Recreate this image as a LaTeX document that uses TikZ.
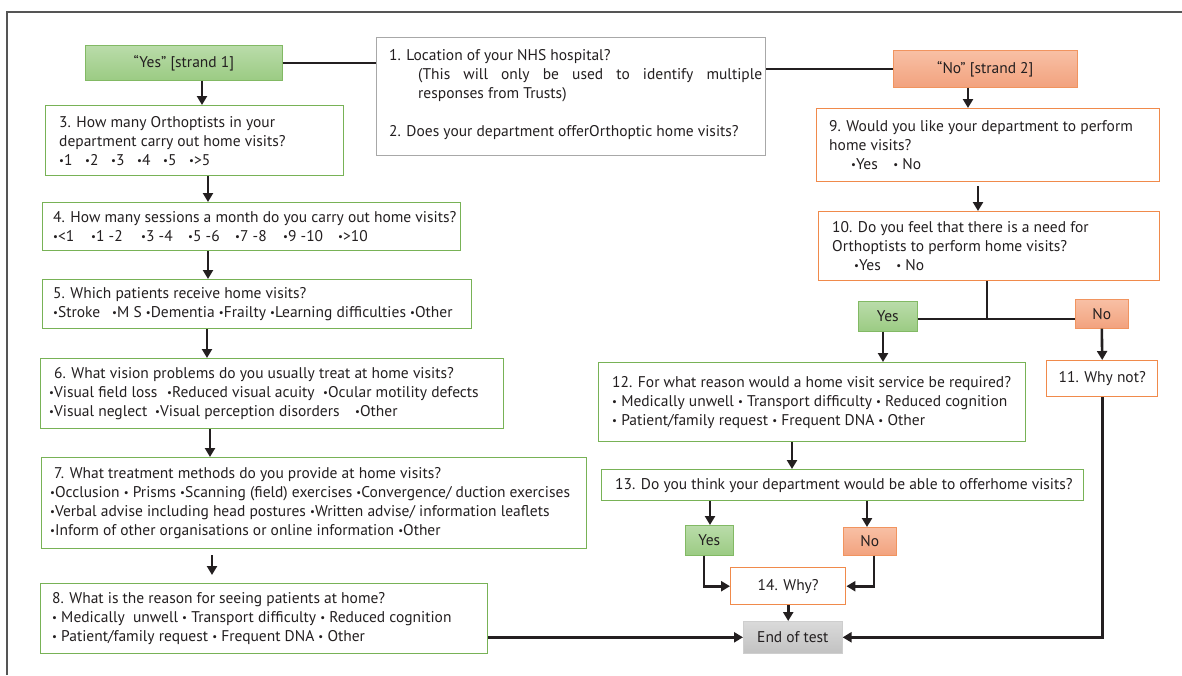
\documentclass[tikz,border=0pt]{standalone}
\usepackage{fontspec}
\setmainfont{PT Sans}
\usetikzlibrary{arrows.meta,calc}
\definecolor{gbord}{HTML}{78B256}
\definecolor{obord}{HTML}{F08A4B}
\definecolor{qbord}{HTML}{A8A8A8}
\definecolor{gtop}{HTML}{BADCAA}
\definecolor{gbot}{HTML}{9BCB83}
\definecolor{otop}{HTML}{F8C0A5}
\definecolor{obot}{HTML}{F2A27E}
\definecolor{ytop}{HTML}{DADADA}
\definecolor{ybot}{HTML}{C2C2C2}
\definecolor{lcol}{HTML}{231F20}
\definecolor{tcol}{HTML}{231F20}
\definecolor{frame}{HTML}{555555}
\newcommand\bu{\raisebox{0.12ex}{\scalebox{0.7}{•}}}
\newcommand\bx[2]{\makebox[#1pt][l]{#2}}
\begin{document}
\begin{tikzpicture}[x=1pt,y=-1pt,
  every node/.style={inner sep=0pt, text=tcol, font=\fontsize{15.5}{19}\selectfont},
  box/.style={draw, line width=1.4pt, fill=white, anchor=north west},
  gbox/.style={box, draw=gbord},
  obox/.style={box, draw=obord},
  qbox/.style={box, draw=qbord},
  gfill/.style={anchor=north west, draw=gbord!70!gbot, line width=0.6pt, top color=gtop, bottom color=gbot},
  ofill/.style={anchor=north west, draw=obord!60!obot, line width=0.6pt, top color=otop, bottom color=obot},
  yfill/.style={anchor=north west, draw=ybot!80!white, line width=0.6pt, top color=ytop, bottom color=ybot},
  txt/.style={align=left, anchor=west},
  link/.style={draw=lcol, line width=2.6pt},
  arr/.style={link, -{Triangle[length=9pt,width=10pt]}},
]
\useasboundingbox (0,0) rectangle (1182,675);
\draw[frame, line width=1.3pt] (7,675) -- (7,12) -- (1182,12);

% top row
\node[gfill, minimum width=197pt, minimum height=35pt] (ys1) at (85,45) {“Yes” [strand 1]};
\node[qbox, minimum width=389pt, minimum height=118pt] (q1) at (376,37) {};
\node[txt] (t1) at ([xshift=13pt,yshift=2pt]q1.west) {1. Location of your NHS hospital?\\
\hspace*{29pt}\makebox[344pt][s]{(This will only be used to identify multiple}\\
\hspace*{29pt}responses from Trusts)\\
~\\
2. Does your department offerOrthoptic home visits?};
\node[ofill, minimum width=184pt, minimum height=37pt] (ns2) at (893,50) {“No” [strand 2]};

% left strand
\node[gbox, minimum width=298pt, minimum height=70pt] (q3) at (45,105) {};
\node[txt] (t3) at ([xshift=14pt]q3.west) {3. How many Orthoptists in your\\
department carry out home visits?\\
\bx{26}{\bu1}\bx{26}{\bu2}\bx{26}{\bu3}\bx{26}{\bu4}\bx{26}{\bu5}\bu>5};

\node[gbox, minimum width=418pt, minimum height=48pt] (q4) at (42,202) {};
\node[txt] (t4) at ([xshift=11pt]q4.west) {4. How many sessions a month do you carry out home visits?\\
\bx{38}{\bu<1}\bx{50}{\bu1 -2}\bx{47}{\bu3 -4}\bx{47}{\bu5 -6}\bx{48}{\bu7 -8}\bx{55}{\bu9 -10}\bu>10};

\node[gbox, minimum width=429pt, minimum height=49pt] (q5) at (42,279) {};
\node[txt] (t5) at ([xshift=11pt]q5.west) {5. Which patients receive home visits?\\
\bx{59}{\bu Stroke}\bu M S \bu Dementia \bu Frailty \bu Learning difficulties \bu Other};

\node[gbox, minimum width=463pt, minimum height=70pt] (q6) at (40,358) {};
\node[txt] (t6) at ([xshift=9pt]q6.west) {\hspace*{5pt}6. What vision problems do you usually treat at home visits?\\
\bx{118}{\bu Visual field loss}\bx{156}{\bu Reduced visual acuity}\bu Ocular motility defects\\
\bx{106}{\bu Visual neglect}\bx{200}{\bu Visual perception disorders}\bu Other};

\node[gbox, minimum width=545pt, minimum height=91pt] (q7) at (41,457) {};
\node[txt] (t7) at ([xshift=9pt]q7.west) {\hspace*{4pt}7. What treatment methods do you provide at home visits?\\
\bu Occlusion \bu{} Prisms \bu Scanning (field) exercises \bu Convergence/ duction exercises\\
\bu Verbal advise including head postures \bu Written advise/ information leaflets\\
\bu Inform of other organisations or online information \bu Other};

\node[gbox, minimum width=447pt, minimum height=70pt] (q8) at (40,583) {};
\node[txt] (t8) at ([xshift=12pt]q8.west) {8. What is the reason for seeing patients at home?\\
\bu{} Medically\ \ unwell \bu{} Transport difficulty \bu{} Reduced cognition\\
\bu{} Patient/family request \bu{} Frequent DNA \bu{} Other};

\node[yfill, minimum width=99pt, minimum height=32pt] (end) at (743,621) {End of test};

% right strand
\node[obox, minimum width=343pt, minimum height=73pt] (q9) at (816,108) {};
\node[txt] (t9) at ([xshift=13pt]q9.west) {9. Would you like your department to perform\\
home visits?\\
\hspace*{22pt}\bu Yes\quad\bu{} No};

\node[obox, minimum width=341pt, minimum height=69pt] (q10) at (818,211) {};
\node[txt] (t10) at ([xshift=14pt]q10.west) {10. Do you feel that there is a need for\\
Orthoptists to perform home visits?\\
\hspace*{22pt}\bu Yes\quad\bu{} No};

\node[gfill, minimum width=59pt, minimum height=30pt] (yes2) at (858,301) {Yes};
\node[ofill, minimum width=53pt, minimum height=29pt] (no2) at (1075,299) {No};

\node[obox, minimum width=111pt, minimum height=36pt] (q11) at (1046,360) {};
\node[txt, anchor=center] (t11) at (q11.center) {11. Why not?};

\node[gbox, minimum width=427pt, minimum height=79pt] (q12) at (598,362) {};
\node[txt] (t12) at ([xshift=14pt]q12.west) {12. For what reason would a home visit service be required?\\
\bu{} Medically unwell \bu{} Transport difficulty \bu{} Reduced cognition\\
\bu{} Patient/family request \bu{} Frequent DNA \bu{} Other};

\node[gbox, minimum width=482pt, minimum height=31pt] (q13) at (601,469) {};
\node[txt] (t13) at ([xshift=14pt]q13.west) {13. Do you think your department would be able to offerhome visits?};

\node[gfill, minimum width=48pt, minimum height=30pt] (yes3) at (685,525) {Yes};
\node[ofill, minimum width=53pt, minimum height=28pt] (no3) at (843,527) {No};

\node[obox, minimum width=115pt, minimum height=37pt] (q14) at (730,567) {};
\node[txt, anchor=center] (t14) at (q14.center) {14. Why?};

% column coordinates
\coordinate (c1) at (202,0);
\coordinate (c2) at (208,0);
\coordinate (c3) at (207,0);
\coordinate (c4) at (210,0);
\coordinate (c5) at (212,0);
\coordinate (c6) at (968,0);
\coordinate (c7) at (978,0);
\coordinate (j) at (987,319);
\coordinate (c8) at (883,0);
\coordinate (c9) at (792,0);
\coordinate (c10) at (710,0);
\coordinate (c11) at (867,0);
\coordinate (c12) at (704,0);
\coordinate (c13) at (874,0);

% connectors
\draw[link] (ys1.east) -- (ys1.east -| q1.west);
\draw[link] (ns2.west) -- (ns2.west -| q1.east);
\draw[arr] (ys1.south -| c1) -- (q3.north -| c1);
\draw[arr] (q3.south -| c2) -- (q4.north -| c2);
\draw[arr] (q4.south -| c2) -- (q5.north -| c2);
\draw[arr] (q5.south -| c3) -- (q6.north -| c3);
\draw[arr] (q6.south -| c4) -- (q7.north -| c4);
\draw[arr, shorten <=6pt, shorten >=8pt] (q7.south -| c5) -- (q8.north -| c5);
\draw[arr] (q8.east |- end.west) -- (end.west);

\draw[arr] (ns2.south -| c6) -- (q9.north -| c6);
\draw[arr, shorten <=4pt] (q9.south -| c7) -- (q10.north -| c7);
\draw[link] (q10.south -| j) -- (j);
\draw[link] (yes2.east |- j) -- (no2.west |- j);
\draw[arr] (yes2.south -| c8) -- (q12.north -| c8);
\draw[arr] (no2.south) -- (q11.north);
\draw[arr] (q11.south) |- (end.east);
\draw[arr] (q12.south -| c9) -- (q13.north -| c9);
\draw[arr] (q13.south -| c10) -- (yes3.north -| c10);
\draw[arr] (q13.south -| c11) -- (no3.north -| c11);
\draw[arr] (yes3.south -| c12) |- (q14.west);
\draw[arr] (no3.south -| c13) |- (q14.east);
\draw[arr] (q14.south) -- (q14.south |- end.north);
\end{tikzpicture}
\end{document}
